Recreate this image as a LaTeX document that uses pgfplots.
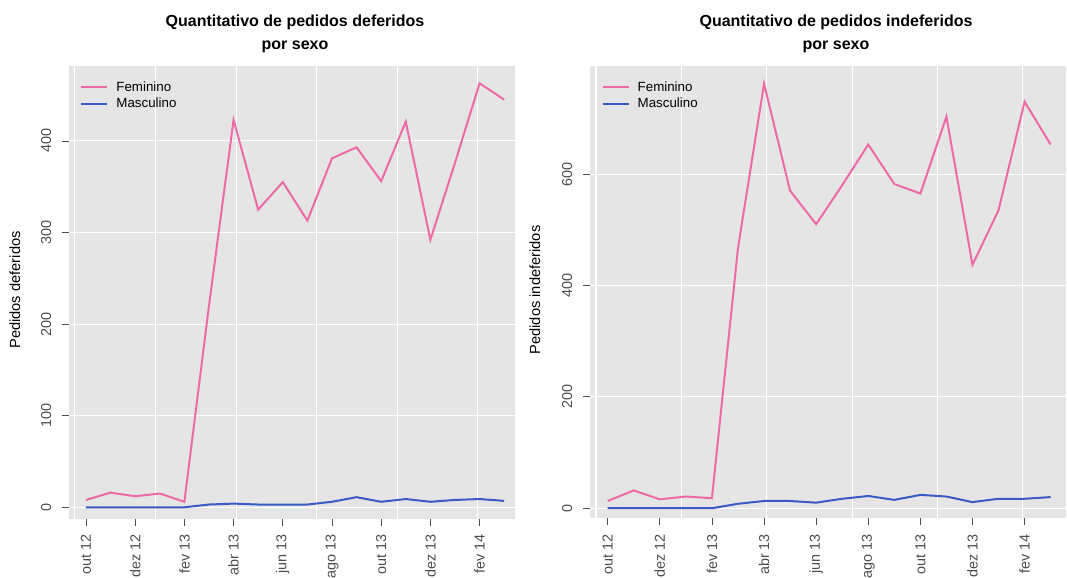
\documentclass[border=0pt]{standalone}
\usepackage{pgfplots}
\pgfplotsset{compat=1.18}
\usepackage{fontspec}
\setmainfont{Liberation Sans}
\definecolor{panelbg}{HTML}{E5E5E5}
\definecolor{fem}{HTML}{EE6AA7}
\definecolor{mas}{HTML}{3A5BC4}
\definecolor{ticklab}{HTML}{4D4D4D}
\pgfplotstableread{
i LF LM RF RM
0 8 0 13 0
1 16 0 32 0
2 12 0 16 0
3 15 0 21 0
4 6 0 18 0
5 220 3 467 8
6 423 4 762 13
7 325 3 570 13
8 355 3 510 10
9 313 3 580 17
10 381 6 653 22
11 393 11 582 15
12 356 6 565 24
13 421 9 703 21
14 292 6 437 11
15 376 8 535 17
16 463 9 730 17
17 445 7 653 20
}\datatab
\pgfplotsset{
  refstyle/.style={
    scale only axis,
    axis background/.style={fill=panelbg},
    axis line style={draw=none},
    tick align=outside,
    xtick pos=bottom, ytick pos=left,
    major tick length=5.25pt,
    tick style={color=ticklab, line width=0.6pt},
    xtick={0,2,...,16},
    xticklabels={out 12,dez 12,fev 13,abr 13,jun 13,ago 13,out 13,dez 13,fev 14},
    xticklabel style={yshift=-3pt, rotate=90, anchor=east, font=\fontsize{10.8}{12}\selectfont, text=ticklab},
    yticklabel style={xshift=-4.5pt, rotate=90, anchor=south, font=\fontsize{10.8}{12}\selectfont, text=ticklab},
    /pgf/number format/assume math mode=true,
    ymajorgrids,
    grid style={white, line width=0.8pt},
    extra x ticks={-0.45,2.82,6.10,9.38,12.65,15.93},
    extra x tick labels={},
    extra x tick style={grid=major, major tick length=0pt},
    legend style={draw=none, fill=none, font=\fontsize{10}{12}\selectfont, anchor=north west, row sep=-0.5pt, inner sep=0pt},
    legend cell align=left,
    legend image code/.code={\draw[#1, line width=1.5pt] (0pt,0pt) -- (17pt,0pt); \path (0pt,0pt) -- (19.5pt,0pt);},
    legend style={nodes={inner xsep=6pt}},
    clip=true,
  }
}
\begin{document}
\begin{tikzpicture}
\useasboundingbox (0pt,0pt) rectangle (800.25pt,433.5pt);
\begin{axis}[refstyle,
  at={(51.75pt,44.25pt)}, anchor=south west,
  width=334.5pt, height=339.75pt,
  xmin=-0.69, xmax=17.44, ymin=-12.8, ymax=481.8,
  ytick={0,100,200,300,400},
  legend style={at={(0.025,0.972)}},
]
\addplot[fem, line width=1.5pt] table[x=i, y=LF] {\datatab};
\addlegendentry{Feminino}
\addplot[mas, line width=1.5pt] table[x=i, y=LM] {\datatab};
\addlegendentry{Masculino}
\end{axis}
\begin{axis}[refstyle,
  at={(442.5pt,44.8pt)}, anchor=south west,
  width=357pt, height=339.2pt,
  xmin=-0.68, xmax=17.59, ymin=-18, ymax=794,
  ytick={0,200,400,600},
  legend style={at={(0.024,0.972)}},
]
\addplot[fem, line width=1.5pt] table[x=i, y=RF] {\datatab};
\addlegendentry{Feminino}
\addplot[mas, line width=1.5pt] table[x=i, y=RM] {\datatab};
\addlegendentry{Masculino}
\end{axis}
\node[align=center, font=\fontsize{12}{17}\selectfont\bfseries] at (221.25pt,408pt) {Quantitativo de pedidos deferidos\\por sexo};
\node[align=center, font=\fontsize{12}{17}\selectfont\bfseries] at (627pt,408pt) {Quantitativo de pedidos indeferidos\\por sexo};
\node[rotate=90, font=\fontsize{11}{13}\selectfont] at (11.25pt,216pt) {Pedidos deferidos};
\node[rotate=90, font=\fontsize{11}{13}\selectfont] at (401.25pt,216pt) {Pedidos indeferidos};
\end{tikzpicture}
\end{document}
